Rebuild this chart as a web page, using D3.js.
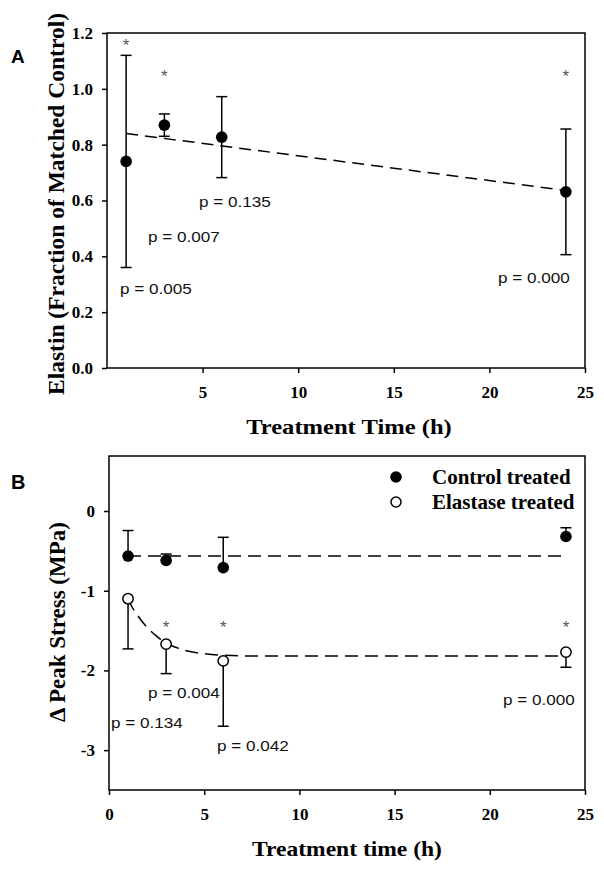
<!DOCTYPE html>
<html><head><meta charset="utf-8">
<script src="https://cdn.jsdelivr.net/npm/d3@7"></script>
<style>body{margin:0;background:#fff}svg{display:block}</style>
</head><body>
<svg id="c" width="604" height="872"></svg>
<script>
// ---------- Panel A data ----------
const timesA = [1, 3, 6, 24];
const elastinMean = [0.74, 0.87, 0.827, 0.631];
const elastinErr = [0.38, 0.04, 0.145, 0.225];
const elastinStars = [true, true, false, true];
const elastinP = ["p = 0.005", "p = 0.007", "p = 0.135", "p = 0.000"];
const fitAT = [1, 24];
const fitAV = [0.840, 0.636];
const yTicksA = [0, 0.2, 0.4, 0.6, 0.8, 1.0, 1.2];
const xTicksA = [5, 10, 15, 20, 25];

// ---------- Panel B data ----------
const timesB = [1, 3, 6, 24];
const controlMean = [-0.565, -0.62, -0.71, -0.32];
const controlErr = [0.32, 0.08, 0.38, 0.11];
const elastaseMean = [-1.10, -1.67, -1.88, -1.77];
const elastaseErr = [0.63, 0.37, 0.82, 0.19];
const elastaseStars = [false, true, true, true];
const elastaseP = ["p = 0.134", "p = 0.004", "p = 0.042", "p = 0.000"];
const controlFitT = [1, 24];
const controlFitV = [-0.565, -0.565];
const elastaseFitT = [1, 1.25, 1.5, 2, 2.5, 3, 3.5, 4, 5, 6, 8, 12, 24];
const elastaseFitV = [-1.10, -1.22, -1.31, -1.46, -1.57, -1.66, -1.71, -1.75, -1.79, -1.81, -1.82, -1.82, -1.82];
const yTicksB = [0, -1, -2, -3];
const xTicksB = [0, 5, 10, 15, 20, 25];
const legendLabels = ["Control treated", "Elastase treated"];

const svg = d3.select("#c");
const SERIF = "'Liberation Serif','Times New Roman',serif";
const SANS = "'Liberation Sans',Arial,sans-serif";

function stretch(sel, f) {
  sel.each(function () {
    const w = this.getComputedTextLength();
    d3.select(this).attr("textLength", w * f).attr("lengthAdjust", "spacingAndGlyphs");
  });
}

function drawAxes(g, x, y, xTicks, yTicks, yFmt, W, H) {
  g.append("rect").attr("x", 0).attr("y", 0).attr("width", W).attr("height", H)
    .attr("fill", "none").attr("stroke", "#000").attr("stroke-width", 1.5);
  const xa = g.append("g").attr("transform", `translate(0,${H})`)
    .call(d3.axisBottom(x).tickValues(xTicks).tickSize(5).tickPadding(13).tickSizeOuter(0));
  const ya = g.append("g")
    .call(d3.axisLeft(y).tickValues(yTicks).tickFormat(yFmt).tickSize(5).tickPadding(9).tickSizeOuter(0));
  [xa, ya].forEach(a => {
    a.select(".domain").attr("stroke", "none");
    a.selectAll(".tick line").attr("stroke", "#000").attr("stroke-width", 1.5);
    a.selectAll(".tick text").attr("fill", "#000").attr("font-family", SERIF)
      .attr("font-weight", "bold").attr("font-size", 17);
  });
  xa.selectAll(".tick text").attr("dy", "0.71em");
}

// ---------------- Panel A ----------------
{
  const L = 107, T = 33, W = 585 - 107, H = 368 - 33;
  const g = svg.append("g").attr("transform", `translate(${L},${T})`);
  const x = d3.scaleLinear().domain([0, 25]).range([0, W]);
  const y = d3.scaleLinear().domain([0, 1.2]).range([H, 0]);
  drawAxes(g, x, y, xTicksA, yTicksA, d3.format(".1f"), W, H);

  g.append("path").datum(fitAT.map((t, i) => [t, fitAV[i]]))
    .attr("d", d3.line().x(d => x(d[0])).y(d => y(d[1])))
    .attr("fill", "none").attr("stroke", "#000").attr("stroke-width", 1.5)
    .attr("stroke-dasharray", "12,7");

  const eb = g.append("g").attr("stroke", "#000").attr("stroke-width", 1.5);
  timesA.forEach((t, i) => {
    const cx = x(t), top = y(elastinMean[i] + elastinErr[i]), bot = y(elastinMean[i] - elastinErr[i]);
    eb.append("line").attr("x1", cx).attr("x2", cx).attr("y1", top).attr("y2", bot);
    eb.append("line").attr("x1", cx - 5.5).attr("x2", cx + 5.5).attr("y1", top).attr("y2", top);
    eb.append("line").attr("x1", cx - 5.5).attr("x2", cx + 5.5).attr("y1", bot).attr("y2", bot);
  });
  g.selectAll("circle.m").data(timesA).join("circle")
    .attr("cx", d => x(d)).attr("cy", (d, i) => y(elastinMean[i])).attr("r", 5.8).attr("fill", "#000");

  const starY = [1.17, 1.06, null, 1.06];
  timesA.forEach((t, i) => {
    if (!elastinStars[i]) return;
    g.append("text").attr("x", x(t)).attr("y", y(starY[i]) + 10).attr("text-anchor", "middle")
      .attr("font-family", SANS).attr("font-size", 17).attr("fill", "#555").text("*");
  });

  const pPos = [[120 - L, 294 - T], [148 - L, 242 - T], [199 - L, 207 - T], [498 - L, 283 - T]];
  g.selectAll("text.p").data(elastinP).join("text").attr("class", "p")
    .attr("x", (d, i) => pPos[i][0]).attr("y", (d, i) => pPos[i][1])
    .attr("font-family", SANS).attr("font-size", 15).attr("fill", "#111").text(d => d)
    .call(stretch, 1.14);

  svg.append("text").attr("x", 349).attr("y", 434).attr("text-anchor", "middle")
    .attr("font-family", SERIF).attr("font-weight", "bold").attr("font-size", 21)
    .text("Treatment Time (h)").call(stretch, 1.17);
  svg.append("text").attr("transform", "translate(64,204) rotate(-90)").attr("text-anchor", "middle")
    .attr("font-family", SERIF).attr("font-weight", "bold").attr("font-size", 23.5)
    .text("Elastin (Fraction of Matched Control)");
  svg.append("text").attr("x", 11).attr("y", 63).attr("font-family", SANS).attr("font-weight", "bold")
    .attr("font-size", 19).text("A");
}

// ---------------- Panel B ----------------
{
  const L = 109, T = 456, W = 585 - 109, H = 790 - 456;
  const g = svg.append("g").attr("transform", `translate(${L},${T})`);
  const x = d3.scaleLinear().domain([0, 25]).range([0, W]);
  const y = d3.scaleLinear().domain([-3.5, 0.69]).range([H, 0]);
  drawAxes(g, x, y, xTicksB, yTicksB, d => String(d), W, H);

  const line = d3.line().x(d => x(d[0])).y(d => y(d[1]));
  g.append("path").datum(controlFitT.map((t, i) => [t, controlFitV[i]]))
    .attr("d", line).attr("fill", "none").attr("stroke", "#000").attr("stroke-width", 1.5)
    .attr("stroke-dasharray", "13,7");
  g.append("path").datum(elastaseFitT.map((t, i) => [t, elastaseFitV[i]]))
    .attr("d", line.curve(d3.curveMonotoneX)).attr("fill", "none").attr("stroke", "#000").attr("stroke-width", 1.5)
    .attr("stroke-dasharray", "13,7");

  const eb = g.append("g").attr("stroke", "#000").attr("stroke-width", 1.5);
  timesB.forEach((t, i) => {
    const cx = x(t);
    const c0 = y(controlMean[i]), c1 = y(controlMean[i] + controlErr[i]);
    eb.append("line").attr("x1", cx).attr("x2", cx).attr("y1", c0).attr("y2", c1);
    eb.append("line").attr("x1", cx - 5.5).attr("x2", cx + 5.5).attr("y1", c1).attr("y2", c1);
    const e0 = y(elastaseMean[i]), e1 = y(elastaseMean[i] - elastaseErr[i]);
    eb.append("line").attr("x1", cx).attr("x2", cx).attr("y1", e0).attr("y2", e1);
    eb.append("line").attr("x1", cx - 5.5).attr("x2", cx + 5.5).attr("y1", e1).attr("y2", e1);
  });
  g.selectAll("circle.c").data(timesB).join("circle").attr("class", "c")
    .attr("cx", d => x(d)).attr("cy", (d, i) => y(controlMean[i])).attr("r", 5.8).attr("fill", "#000");
  g.selectAll("circle.e").data(timesB).join("circle").attr("class", "e")
    .attr("cx", d => x(d)).attr("cy", (d, i) => y(elastaseMean[i])).attr("r", 5.2)
    .attr("fill", "#fff").attr("stroke", "#000").attr("stroke-width", 1.5);

  timesB.forEach((t, i) => {
    if (!elastaseStars[i]) return;
    g.append("text").attr("x", x(t)).attr("y", 623 - T + 10).attr("text-anchor", "middle")
      .attr("font-family", SANS).attr("font-size", 17).attr("fill", "#555").text("*");
  });

  const pPos = [[111 - L, 728 - T], [148 - L, 698 - T], [217 - L, 751 - T], [503 - L, 705 - T]];
  g.selectAll("text.p").data(elastaseP).join("text").attr("class", "p")
    .attr("x", (d, i) => pPos[i][0]).attr("y", (d, i) => pPos[i][1])
    .attr("font-family", SANS).attr("font-size", 15).attr("fill", "#111").text(d => d)
    .call(stretch, 1.14);

  const lg = svg.append("g");
  lg.append("circle").attr("cx", 396).attr("cy", 477).attr("r", 5.8).attr("fill", "#000");
  lg.append("circle").attr("cx", 396).attr("cy", 502).attr("r", 5).attr("fill", "#fff")
    .attr("stroke", "#000").attr("stroke-width", 1.5);
  lg.selectAll("text").data(legendLabels).join("text")
    .attr("x", 432).attr("y", (d, i) => 484 + i * 25)
    .attr("font-family", SERIF).attr("font-weight", "bold").attr("font-size", 21).text(d => d);

  svg.append("text").attr("x", 347).attr("y", 856).attr("text-anchor", "middle")
    .attr("font-family", SERIF).attr("font-weight", "bold").attr("font-size", 21)
    .text("Treatment time (h)").call(stretch, 1.12);
  svg.append("text").attr("transform", "translate(65,622) rotate(-90)").attr("text-anchor", "middle")
    .attr("font-family", SERIF).attr("font-weight", "bold").attr("font-size", 23)
    .text("Δ Peak Stress (MPa)");
  svg.append("text").attr("x", 11).attr("y", 489).attr("font-family", SANS).attr("font-weight", "bold")
    .attr("font-size", 20).text("B");
}
</script>
</body></html>
